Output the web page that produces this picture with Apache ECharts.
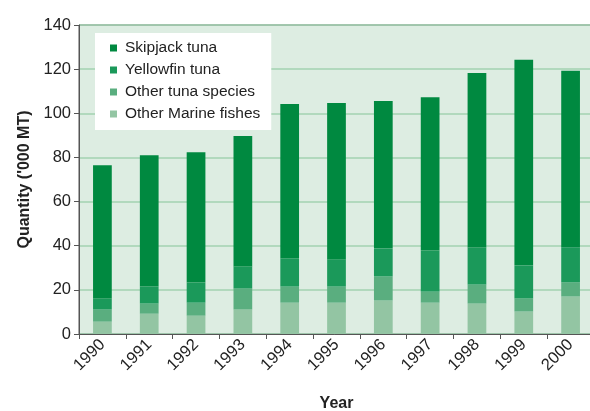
<!DOCTYPE html>
<html>
<head>
<meta charset="utf-8">
<script src="https://cdn.jsdelivr.net/npm/echarts@6/dist/echarts.min.js"></script>
<style>
  html, body { margin: 0; padding: 0; background: #fff; }
  #chart { width: 590px; height: 411px; }
</style>
</head>
<body>
<div id="chart"></div>
<script>
// years on the x axis
const years = ['1990', '1991', '1992', '1993', '1994', '1995', '1996', '1997', '1998', '1999', '2000'];
// quantities, '000 MT (bottom to top)
const marineFishes = [5.6, 9.2, 8.3, 11.1, 14.2, 14.2, 15.2, 14.2, 13.8, 10.2, 17.0];
const otherTuna = [5.5, 4.6, 5.9, 9.5, 7.3, 7.3, 10.9, 5.0, 8.6, 5.9, 6.4];
const yellowfin = [5.0, 7.7, 9.1, 10.0, 12.7, 12.3, 12.7, 18.6, 16.8, 15.0, 15.9];
const skipjack = [60.4, 59.5, 59.1, 59.1, 70.0, 70.9, 66.8, 69.5, 79.1, 93.1, 80.0];

const colors = {
  skipjack: '#008940',
  yellowfin: '#1b995a',
  otherTuna: '#5aae7f',
  marine: '#93c5a3'
};

const chart = echarts.init(document.getElementById('chart'));

const barSeries = (name, data, color) => ({
  name: name,
  type: 'bar',
  stack: 'total',
  data: data,
  barWidth: '40%',
  itemStyle: { color: color },
  emphasis: { disabled: true }
});

chart.setOption({
  animation: false,
  textStyle: { fontFamily: 'Liberation Sans, Arial, sans-serif' },
  grid: {
    left: 79,
    top: 25,
    right: -4,
    bottom: 77,
    outerBoundsMode: 'none',
    containLabel: false,
    show: true,
    backgroundColor: '#ddede2',
    borderColor: '#555',
    borderWidth: 1
  },
  legend: {
    orient: 'vertical',
    left: 95,
    top: 33,
    backgroundColor: '#fff',
    padding: [6, 11, 7, 15],
    itemWidth: 7,
    itemHeight: 7,
    itemGap: 4,
    icon: 'rect',
    textStyle: { fontSize: 15.5, color: '#222', lineHeight: 18, padding: [0, 0, 0, 3] },
    data: ['Skipjack tuna', 'Yellowfin tuna', 'Other tuna species', 'Other Marine fishes']
  },
  xAxis: {
    type: 'category',
    data: years,
    name: 'Year',
    nameLocation: 'middle',
    nameGap: 62,
    nameTextStyle: { fontSize: 16, fontWeight: 'bold', color: '#222' },
    axisLine: { lineStyle: { color: '#555', width: 1 } },
    axisTick: { show: true, length: 5, lineStyle: { color: '#555' } },
    axisLabel: { rotate: 45, fontSize: 16.5, color: '#222', margin: 8 }
  },
  yAxis: {
    type: 'value',
    min: 0,
    max: 140,
    interval: 20,
    name: "Quantity ('000 MT)",
    nameLocation: 'middle',
    nameGap: 46,
    nameTextStyle: { fontSize: 16, fontWeight: 'bold', color: '#222' },
    axisLine: { show: true, lineStyle: { color: '#555', width: 1 } },
    axisTick: { show: true, length: 5, lineStyle: { color: '#555' } },
    axisLabel: { fontSize: 16.5, color: '#222', margin: 8 },
    splitLine: { lineStyle: { color: '#a2d2b0', width: 1.5 } }
  },
  series: [
    barSeries('Other Marine fishes', marineFishes, colors.marine),
    barSeries('Other tuna species', otherTuna, colors.otherTuna),
    barSeries('Yellowfin tuna', yellowfin, colors.yellowfin),
    barSeries('Skipjack tuna', skipjack, colors.skipjack)
  ]
});
</script>
</body>
</html>
